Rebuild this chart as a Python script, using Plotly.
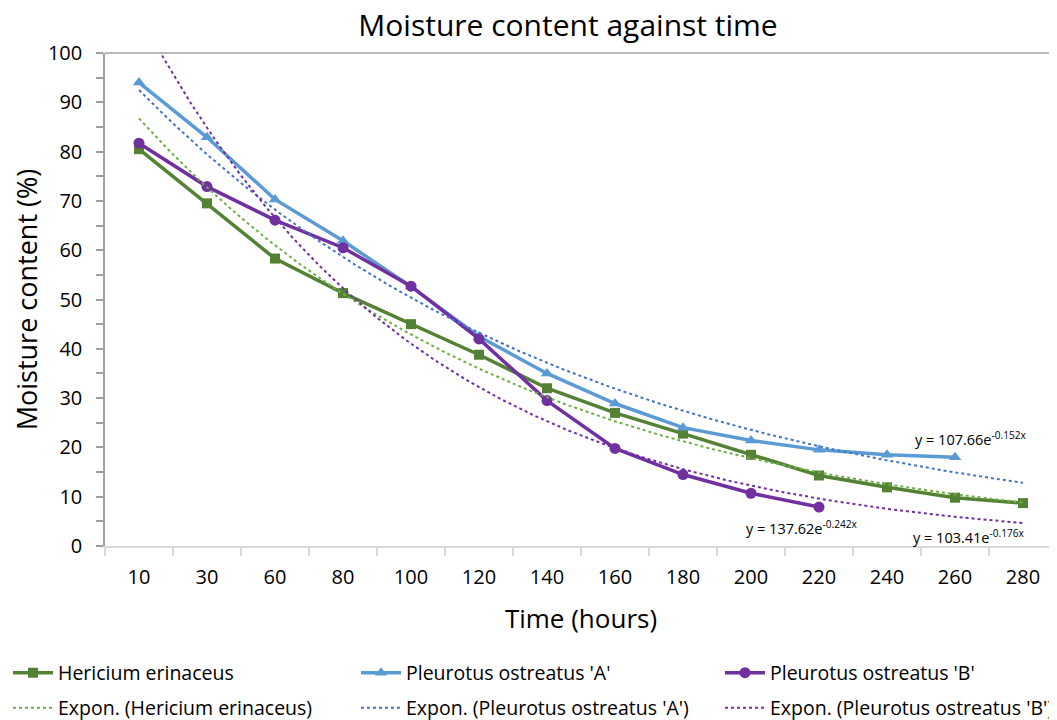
import numpy as np
import plotly.graph_objects as go

# ---- data ----
time_labels = ["10", "30", "60", "80", "100", "120", "140", "160", "180", "200", "220", "240", "260", "280"]
hericium = [80.5, 69.5, 58.3, 51.3, 45.0, 38.8, 32.0, 27.0, 22.8, 18.5, 14.3, 11.9, 9.8, 8.7]
pleurotus_a = [94.0, 82.9, 70.3, 61.9, 52.6, 42.5, 35.0, 28.9, 24.0, 21.4, 19.5, 18.5, 18.0]
pleurotus_b = [81.7, 72.9, 66.1, 60.5, 52.7, 42.0, 29.5, 19.8, 14.5, 10.7, 7.9]

# exponential trendline coefficients shown on chart: y = a * e^(b x), x = category index
trend_h = (103.41, -0.176)
trend_a = (107.66, -0.152)
trend_b = (137.62, -0.242)

names = ["Hericium erinaceus", "Pleurotus ostreatus 'A'", "Pleurotus ostreatus 'B'"]

FONT = "Open Sans"
GREEN, BLUE, PURPLE = "#548235", "#5B9BD5", "#7030A0"
GREEN_T, BLUE_T, PURPLE_T = "#70AD47", "#4472C4", "#7030A0"

# page has an 8px body margin; figure is sized to fill the rest of the 1057x720 window
W, H = 1049, 712

fig = go.Figure()

def idx(vals):
    return list(range(1, len(vals) + 1))

series = [
    (hericium, trend_h, names[0], GREEN, GREEN_T, "square", 10, 1),
    (pleurotus_a, trend_a, names[1], BLUE, BLUE_T, "triangle-up", 11, 2),
    (pleurotus_b, trend_b, names[2], PURPLE, PURPLE_T, "circle", 11, 3),
]
xs = np.linspace(1, len(time_labels), 300)
for vals, (a, b), name, col, tcol, sym, ms, k in series:
    fig.add_trace(go.Scatter(
        x=idx(vals), y=vals, name=name, mode="lines+markers",
        line=dict(color=col, width=3.5),
        marker=dict(symbol=sym, size=ms, color=col),
        legend="legend" if k == 1 else f"legend{k}",
    ))
for vals, (a, b), name, col, tcol, sym, ms, k in series:
    fig.add_trace(go.Scatter(
        x=xs, y=a * np.exp(b * xs), name=f"Expon. ({name})", mode="lines",
        line=dict(color=tcol, width=2, dash="dot"),
        legend=f"legend{k + 3}",
    ))

def eq(a, b):
    return f"y = {a:.2f}e<sup>{b:.3f}x</sup>"

ann_font = dict(family=FONT, size=14.5, color="#000000")
fig.add_annotation(x=13.23, y=21.9, text=eq(*trend_a), showarrow=False, font=ann_font)
fig.add_annotation(x=10.75, y=3.8, text=eq(*trend_b), showarrow=False, font=ann_font)
fig.add_annotation(x=13.2, y=2.0, text=eq(*trend_h), showarrow=False, font=ann_font)

# top border of plot area
fig.add_shape(type="line", xref="paper", yref="paper", x0=0, x1=1, y0=1, y1=1,
              line=dict(color="#A0A0A0", width=1.5))

col_x = [-13, 348, 712]
row_y = [673 - 8, 708 - 8]

def leg(col, row):
    return dict(orientation="h", xref="container", yref="container",
                x=col_x[col] / W, xanchor="left", y=1 - row_y[row] / H, yanchor="middle",
                font=dict(size=19.5, family=FONT), itemwidth=40,
                bgcolor="rgba(0,0,0,0)")

fig.update_layout(
    width=W, height=H,
    margin=dict(l=97, r=0, t=45, b=174),
    paper_bgcolor="white", plot_bgcolor="white",
    font=dict(family=FONT, color="#000000"),
    title=dict(text="Moisture content against time", x=560 / W, xanchor="center",
               y=1 - 17 / H, yanchor="middle", font=dict(size=30, family=FONT)),
    showlegend=True,
    legend=leg(0, 0), legend2=leg(1, 0), legend3=leg(2, 0),
    legend4=leg(0, 1), legend5=leg(1, 1), legend6=leg(2, 1),
    xaxis=dict(
        range=[0.5, len(time_labels) + 0.5],
        tickmode="array", tickvals=idx(time_labels), ticktext=time_labels,
        ticks="outside", ticklen=12, tickcolor="rgba(0,0,0,0)",
        showgrid=False, zeroline=False,
        showline=True, linecolor="#D9D9D9", linewidth=1.5,
        tickfont=dict(size=20, family=FONT),
        minor=dict(tickmode="linear", tick0=0.5, dtick=1, ticks="outside",
                   ticklen=8, tickcolor="#D9D9D9", tickwidth=1.5, showgrid=False),
        title=dict(text="Time (hours)", font=dict(size=26, family=FONT), standoff=21),
    ),
    yaxis=dict(
        range=[0, 100], dtick=10, ticks="outside", ticklen=7, tickcolor="#A0A0A0",
        tickwidth=1.5, showgrid=False, zeroline=False, ticklabelstandoff=10,
        showline=True, linecolor="#A0A0A0", linewidth=1.5,
        tickfont=dict(size=20, family=FONT),
        minor=dict(dtick=5, ticks="outside", ticklen=7, tickcolor="#A0A0A0",
                   tickwidth=1.5, showgrid=False),
        title=dict(text="Moisture content (%)", font=dict(size=27, family=FONT), standoff=4),
    ),
)

fig.write_html("out.html")
